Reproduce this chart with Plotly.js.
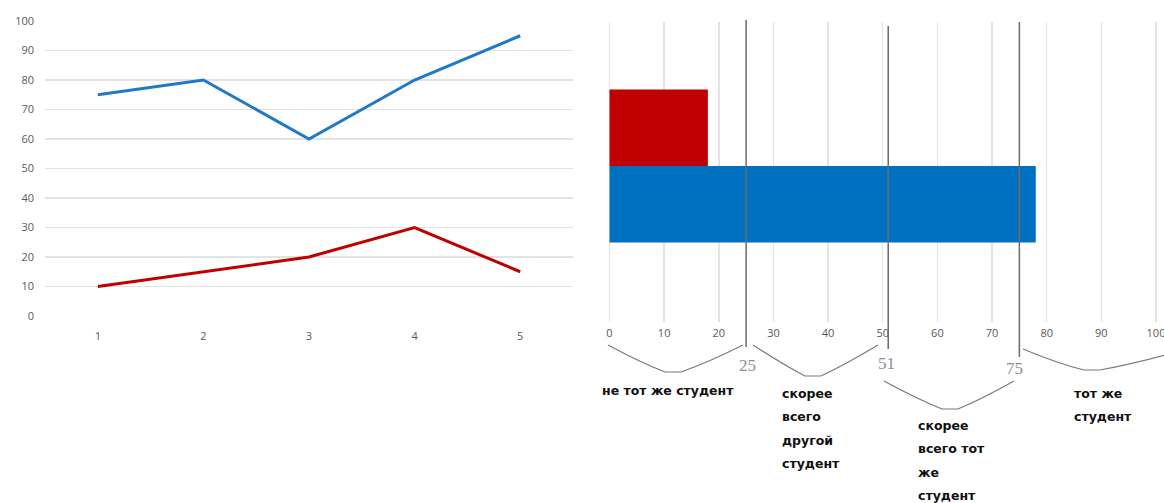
<!DOCTYPE html>
<html>
<head>
<meta charset="utf-8">
<script src="https://cdn.plot.ly/plotly-3.0.1.min.js"></script>
<style>
  html, body { margin: 0; padding: 0; background: #fff; }
  #chart { width: 1164px; height: 503px; }
</style>
</head>
<body>
<div id="chart"></div>
<script>
// Line chart: five observations, two series
const lineX = [1, 2, 3, 4, 5];
const lineBlue = [75, 80, 60, 80, 95];
const lineRed = [10, 15, 20, 30, 15];

// Bar chart: one value per series
const barBlue = [78];
const barRed = [18];

// Zone boundaries on the bar scale and the zone captions (one entry per text line)
const thresholds = [25, 51, 75];
const zoneLabels = [
  ['не тот же студент'],
  ['скорее', 'всего', 'другой', 'студент'],
  ['скорее', 'всего тот', 'же', 'студент'],
  ['тот же', 'студент']
];

const W = 1164, H = 503;
const px = v => v / W;          // pixel x -> paper x
const py = v => 1 - v / H;      // pixel y -> paper y

const BLUE_LINE = '#1f78c8';
const RED_LINE = '#c00000';
const BLUE_BAR = '#0070c0';
const RED_BAR = '#c00000';
const GRID = '#e3e3e3';
const TICK = '#595959';

const traces = [
  { x: lineX, y: lineBlue, type: 'scatter', mode: 'lines', xaxis: 'x', yaxis: 'y',
    line: { color: BLUE_LINE, width: 3 }, hoverinfo: 'skip' },
  { x: lineX, y: lineRed, type: 'scatter', mode: 'lines', xaxis: 'x', yaxis: 'y',
    line: { color: RED_LINE, width: 3 }, hoverinfo: 'skip' },
  { x: barBlue, y: [''], type: 'bar', orientation: 'h', xaxis: 'x2', yaxis: 'y2',
    marker: { color: BLUE_BAR }, hoverinfo: 'skip' },
  { x: barRed, y: [''], type: 'bar', orientation: 'h', xaxis: 'x2', yaxis: 'y2',
    marker: { color: RED_BAR }, hoverinfo: 'skip' }
];

// Vertical boundary lines, in bar-axis units
const lineTops = [20, 26, 22];
const lineBottoms = [347, 349, 357];
const shapes = thresholds.map((t, i) => ({
  type: 'line', xref: 'x2', yref: 'paper',
  x0: t, x1: t, y0: py(lineBottoms[i]), y1: py(lineTops[i]),
  line: { color: '#6b6b6b', width: 1.5 }
}));

// Braces under the axis (pixel geometry)
function brace(x0, y0, x1, y1, xm, ym) {
  const p = (x, y) => px(x).toFixed(5) + ',' + py(y).toFixed(5);
  return {
    type: 'path', xref: 'paper', yref: 'paper',
    path: 'M' + p(x0, y0) +
          ' Q' + p((x0 + xm) / 2, (y0 + ym) / 2 + 4) + ' ' + p(xm - 8, ym) +
          ' L' + p(xm + 8, ym) +
          ' Q' + p((x1 + xm) / 2, (y1 + ym) / 2 + 4) + ' ' + p(x1, y1),
    line: { color: '#7a7a7a', width: 1.2 }
  };
}
shapes.push(brace(608, 345, 743, 345, 673, 372));
shapes.push(brace(753, 345, 878, 345, 813, 376));
shapes.push(brace(884, 381, 1014, 381, 950, 409));
shapes.push(brace(1023, 349, 1200, 345, 1092, 370));

const annotations = [];
const numPos = [[747, 365], [886, 363], [1014, 368]];
thresholds.forEach((t, i) => {
  annotations.push({
    text: String(t), xref: 'paper', yref: 'paper',
    x: px(numPos[i][0]), y: py(numPos[i][1]), xanchor: 'center', yanchor: 'middle',
    showarrow: false, font: { family: 'Liberation Serif', size: 17, color: '#8a8f99' }
  });
});
const capPos = [[600, 390], [780, 393], [916, 425], [1072, 393]];
const LINE_STEP = 23.5;
zoneLabels.forEach((lines, i) => {
  lines.forEach((s, j) => {
    annotations.push({
      text: s, xref: 'paper', yref: 'paper', align: 'left',
      x: px(capPos[i][0]), y: py(capPos[i][1] + j * LINE_STEP),
      xanchor: 'left', yanchor: 'middle',
      showarrow: false,
      font: { family: 'DejaVu Sans', size: 12.5, color: '#111', weight: 'bold' }
    });
  });
});

const layout = {
  width: W, height: H,
  margin: { l: 0, r: 0, t: 0, b: 0 },
  paper_bgcolor: '#fff', plot_bgcolor: 'rgba(0,0,0,0)',
  showlegend: false,
  barmode: 'group', bargap: 0.49,
  font: { family: 'Open Sans', size: 11, color: TICK },
  xaxis: {
    domain: [px(45), px(573)], anchor: 'y',
    range: [0.5, 5.5], tickvals: lineX, ticktext: lineX.map(String),
    showgrid: false, zeroline: false, showline: false, ticks: '',
    ticklabelstandoff: 12,
    tickfont: { size: 11, color: TICK }
  },
  yaxis: {
    domain: [py(316), py(21)], anchor: 'x',
    range: [0, 100], dtick: 10, tick0: 0,
    showgrid: true, gridcolor: GRID, gridwidth: 1.3,
    zeroline: false, showline: false, ticks: '',
    ticklabelstandoff: 10,
    tickfont: { size: 11, color: TICK }
  },
  xaxis2: {
    // slight padding so the 0 and 100 gridlines are kept
    domain: [px(609.5 - 5.465 * 0.5), px(1156 + 5.465 * 0.5)], anchor: 'y2',
    range: [-0.5, 100.5], dtick: 10, tick0: 0,
    showgrid: true, gridcolor: GRID, gridwidth: 1.5,
    zeroline: false, showline: false, ticks: '',
    ticklabelstandoff: 3,
    ticklabeloverflow: 'allow',
    tickfont: { size: 11, color: TICK }
  },
  yaxis2: {
    domain: [py(322), py(22)], anchor: 'x2',
    range: [-0.52, 0.48],
    showgrid: false, zeroline: false, showline: false, ticks: '',
    showticklabels: false
  },
  shapes: shapes,
  annotations: annotations
};

Plotly.newPlot('chart', traces, layout, { staticPlot: true, displayModeBar: false });
</script>
</body>
</html>
